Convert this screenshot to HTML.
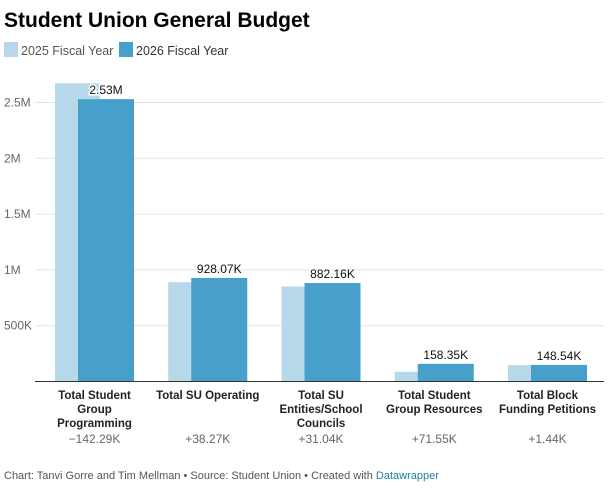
<!DOCTYPE html>
<html><head><meta charset="utf-8"><style>
body{margin:0;background:#fff;width:610px;height:487px;overflow:hidden;font-family:"Liberation Sans",Arial,sans-serif}
</style></head><body>
<svg id="chart" width="610" height="487" xmlns="http://www.w3.org/2000/svg">
<text x="4" y="27" font-size="21" font-weight="bold" fill="#000">Student Union General Budget</text>
<g>
<rect x="4" y="42" width="14" height="15" fill="#b6d8e8"/>
<text x="21" y="55" font-size="12.5" fill="#555">2025 Fiscal Year</text>
<rect x="119" y="42" width="14" height="15" fill="#479fcc"/>
<text x="136" y="55" font-size="12.5" fill="#333">2026 Fiscal Year</text>
</g>
<g id="grid"></g><g id="bars"></g><g id="labels"></g>
<line x1="35" x2="604" y1="381.5" y2="381.5" stroke="#333" stroke-width="1"/>
<text x="4" y="479" font-size="11" fill="#555">Chart: Tanvi Gorre and Tim Mellman • Source: Student Union • Created with <tspan fill="#1d81a2">Datawrapper</tspan></text>
</svg>
<script>
const categories=[["Total Student","Group","Programming"],["Total SU Operating"],["Total SU","Entities/School","Councils"],["Total Student","Group Resources"],["Total Block","Funding Petitions"]];
const values2025=[2672290,889800,851120,86800,147100];
const values2026=[2530000,928070,882160,158350,148540];
const valueLabels=["2.53M","928.07K","882.16K","158.35K","148.54K"];
const diffLabels=["\u2212142.29K","+38.27K","+31.04K","+71.55K","+1.44K"];
const yTicks=[500000,1000000,1500000,2000000,2500000];
const yTickLabels=["500K","1M","1.5M","2M","2.5M"];
const NS="http://www.w3.org/2000/svg";
const y0=381.5, pxPer=111.6/1e6;
const y=v=>y0-v*pxPer;
const gx=i=>55+i*113.25;
function mk(t,a,p){const e=document.createElementNS(NS,t);for(const k in a)e.setAttribute(k,a[k]);p.appendChild(e);return e;}
const grid=document.getElementById('grid'),bars=document.getElementById('bars'),labels=document.getElementById('labels');
yTicks.forEach((v,i)=>{
 const l=mk('line',{x1:35,x2:604,y1:y(v),y2:y(v),stroke:'#e3e3e3','stroke-width':1},grid);
 
 
 const t=mk('text',{x:4,y:y(v)+4,'font-size':12,fill:'#666'},grid);t.textContent=yTickLabels[i];
 
 
});
categories.forEach((c,i)=>{
 const x=gx(i);
 const a=mk('rect',{x:x,y:y(values2025[i]),width:45,height:y0-y(values2025[i]),fill:'#b6d8e8'},bars);
 
 
 const b=mk('rect',{x:x+23,y:y(values2026[i]),width:56,height:y0-y(values2026[i]),fill:'#479fcc'},bars);
 
 
 const vl=mk('text',{x:x+51,y:y(values2026[i])-5,'font-size':12,fill:'#111','text-anchor':'middle'},labels);vl.textContent=valueLabels[i];
 if(i===0){vl.setAttribute('fill','#111');vl.setAttribute('paint-order','stroke');vl.setAttribute('stroke','#fff');vl.setAttribute('stroke-width','3');}
 
 
 const cx=x+39.5;
 const ct=mk('text',{x:cx,y:399,'font-size':11.5,'font-weight':'bold',fill:'#222','text-anchor':'middle'},labels);
 
 
 c.forEach((line,j)=>{const s=mk('tspan',{x:cx,dy:j?14:0},ct);s.textContent=line;});
 const d=mk('text',{x:cx,y:443,'font-size':12,fill:'#666','text-anchor':'middle'},labels);d.textContent=diffLabels[i];
 
 
});
</script>
</body></html>
